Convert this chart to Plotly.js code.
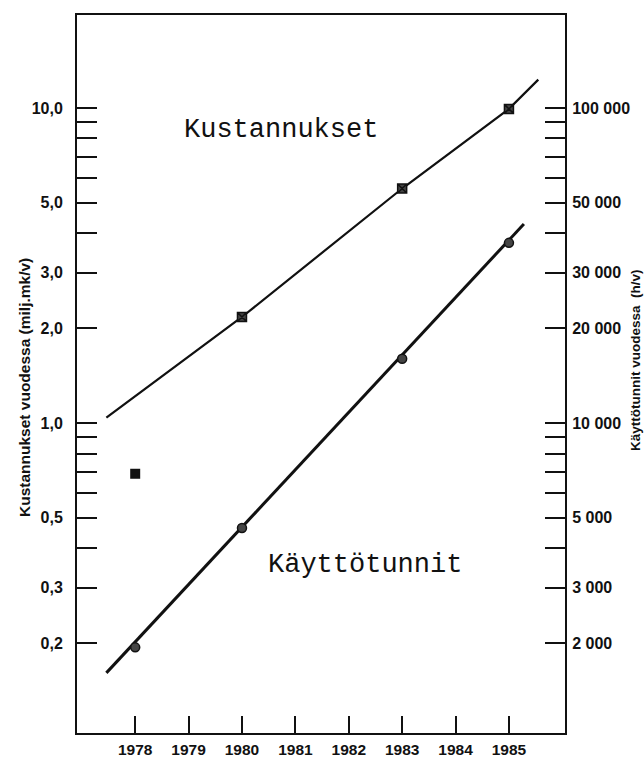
<!DOCTYPE html>
<html>
<head>
<meta charset="utf-8">
<script src="https://cdn.plot.ly/plotly-3.0.1.min.js"></script>
<style>
  html, body { margin: 0; padding: 0; background: #fff; }
  #chart { width: 644px; height: 759px; }
</style>
</head>
<body>
<div id="chart"></div>
<script>
// ---- data ----
const costYears = [1980, 1983, 1985];
const costValues = [2.17, 5.55, 9.93];            // milj.mk/v
const costExtraYear = [1978];
const costExtraValue = [0.69];                     // filled square
const costLineYears = [1977.46, 1980, 1983, 1985, 1985.55];
const costLineValues = [1.04, 2.17, 5.55, 9.93, 12.3];

const hourYears = [1978, 1980, 1983, 1985];
const hourValues = [1940, 4640, 16000, 37300];     // h/v
const hourLineYears = [1977.46, 1985.28];
const hourLineValues = [1610, 42800];

const yearTicks = [1978, 1979, 1980, 1981, 1982, 1983, 1984, 1985];
const leftTickVals = [0.2, 0.3, 0.4, 0.5, 0.6, 0.7, 0.8, 0.9, 1, 2, 3, 4, 5, 6, 7, 8, 9, 10];
const leftTickText = ['0,2', '0,3', '', '0,5', '', '', '', '', '1,0', '2,0', '3,0', '', '5,0', '', '', '', '', '10,0'];
const rightTickVals = [2000, 3000, 4000, 5000, 6000, 7000, 8000, 9000, 10000, 20000, 30000, 40000, 50000, 60000, 70000, 80000, 90000, 100000];
const rightTickText = ['2 000', '3 000', '', '5 000', '', '', '', '', '10 000', '20 000', '30 000', '', '50 000', '', '', '', '', '100 000'];

const tickFont = { family: 'Liberation Sans', size: 16, color: '#111', weight: 'bold' };

const traces = [
  { x: costLineYears, y: costLineValues, mode: 'lines', line: { color: '#111', width: 2.2 }, yaxis: 'y', hoverinfo: 'skip' },
  { x: costYears, y: costValues, mode: 'markers', yaxis: 'y',
    marker: { symbol: 'square-x', size: 9, color: '#444', line: { color: '#111', width: 1.5 } } },
  { x: costExtraYear, y: costExtraValue, mode: 'markers', yaxis: 'y',
    marker: { symbol: 'square', size: 10, color: '#111' } },
  { x: hourLineYears, y: hourLineValues, mode: 'lines', line: { color: '#111', width: 3 }, yaxis: 'y2', hoverinfo: 'skip' },
  { x: hourYears, y: hourValues, mode: 'markers', yaxis: 'y2',
    marker: { symbol: 'circle', size: 9, color: '#444', line: { color: '#111', width: 1.5 } } }
];

const layout = {
  width: 644, height: 759,
  margin: { l: 77, r: 79, t: 15, b: 26 },
  paper_bgcolor: '#fff', plot_bgcolor: '#fff',
  showlegend: false,
  xaxis: {
    range: [1976.91, 1986.05],
    tickvals: yearTicks, ticktext: yearTicks.map(String),
    ticks: 'inside', ticklen: 17, tickwidth: 2, tickcolor: '#111',
    showline: true, linewidth: 2, linecolor: '#111', mirror: true,
    showgrid: false, zeroline: false,
    tickfont: { family: 'Liberation Sans', size: 15.5, color: '#111', weight: 'bold' },
    ticklabelstandoff: 1
  },
  yaxis: {
    type: 'log', range: [-0.984, 1.295],
    tickvals: leftTickVals, ticktext: leftTickText,
    ticks: 'inside', ticklen: 20, tickwidth: 2, tickcolor: '#111',
    showline: true, linewidth: 2, linecolor: '#111',
    showgrid: false, zeroline: false,
    tickfont: tickFont, ticklabelstandoff: 9
  },
  yaxis2: {
    type: 'log', range: [3.016, 5.295], overlaying: 'y', side: 'right',
    tickvals: rightTickVals, ticktext: rightTickText,
    ticks: 'inside', ticklen: 20, tickwidth: 2, tickcolor: '#111',
    showline: true, linewidth: 2, linecolor: '#111',
    showgrid: false, zeroline: false,
    tickfont: tickFont, ticklabelstandoff: 2
  },
  annotations: [
    { text: 'Kustannukset', xref: 'paper', yref: 'paper', x: 0.418, y: 0.840,
      xanchor: 'center', yanchor: 'middle', showarrow: false,
      font: { family: 'Liberation Mono, Courier New, monospace', size: 27, color: '#111' } },
    { text: 'Käyttötunnit', xref: 'paper', yref: 'paper', x: 0.590, y: 0.234,
      xanchor: 'center', yanchor: 'middle', showarrow: false,
      font: { family: 'Liberation Mono, Courier New, monospace', size: 27, color: '#111' } },
    { text: 'Kustannukset vuodessa (milj.mk/v)', xref: 'paper', yref: 'paper', x: -0.1086, y: 0.4805,
      xanchor: 'center', yanchor: 'middle', showarrow: false, textangle: -90,
      font: { family: 'Liberation Sans', size: 15.5, color: '#111', weight: 'bold' } },
    { text: 'Käyttötunnit vuodessa  (h/v)', xref: 'paper', yref: 'paper', x: 1.1455, y: 0.5195,
      xanchor: 'center', yanchor: 'middle', showarrow: false, textangle: -90,
      font: { family: 'Liberation Sans', size: 13.5, color: '#111', weight: 'bold' } }
  ]
};

Plotly.newPlot('chart', traces, layout, { displayModeBar: false, staticPlot: true });
</script>
</body>
</html>
